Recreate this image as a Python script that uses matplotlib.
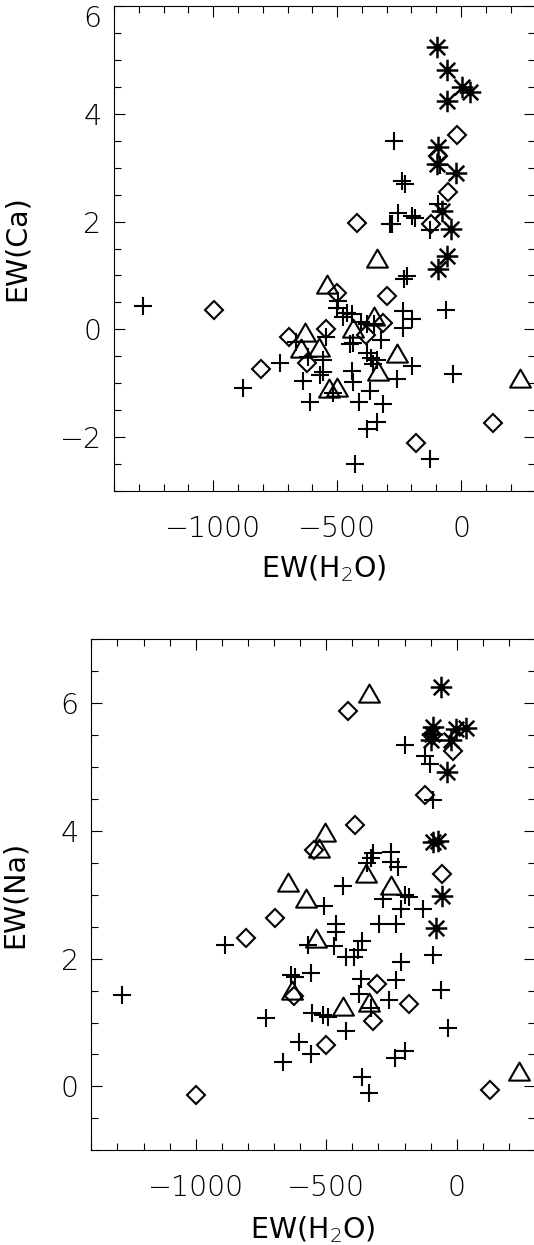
import numpy as np
import matplotlib
matplotlib.use('Agg')
import matplotlib.pyplot as plt
from matplotlib.path import Path
from matplotlib.ticker import MultipleLocator

# EW(H2O) vs EW(Ca) -- one list per symbol
ca_plus_x = [-1281, -878, -730, -666, -636, -616, -609, -569, -558, -555, -546, -517, -495, -501,
             -475, -461, -441, -448, -434, -441, -434, -427, -410, -404, -380, -351, -380, -362,
             -340, -354, -367, -324, -313, -340, -380, -286, -278, -270, -259, -253, -239, -226,
             -233, -232, -219, -199, -233, -199, -199, -185, -125, -125, -60, -33, -85, -92]
ca_plus_y = [0.43, -1.08, -0.62, -0.24, -0.96, -0.52, -1.35, -0.84, -0.80, -0.57, -0.14, -1.18, 0.52, 0.40,
             0.23, 0.30, 0.28, -0.28, -0.26, -0.77, -0.97, -2.50, -1.35, 0.14, 0.09, 0.09, -0.43, -0.53,
             -0.56, -0.65, -1.15, -0.20, -1.39, -1.72, -1.85, 1.96, 1.96, 3.49, -0.93, 2.16, 2.75, 2.69,
             0.34, 0.93, 0.99, 0.19, 0.02, -0.68, 2.10, 2.07, 1.85, -2.41, 0.36, -0.83, 3.05, 2.32]
ca_dia_x = [-996, -806, -694, -620, -544, -501, -421, -383, -316, -300, -181, -122, -91, -54, -15, 128]
ca_dia_y = [0.36, -0.74, -0.15, -0.63, 0.0, 0.68, 1.98, -0.11, 0.12, 0.62, -2.10, 1.95, 3.21, 2.54, 3.61, -1.74]
ca_tri_x = [-629, -646, -571, -539, -531, -501, -434, -351, -340, -333, -259, 238]
ca_tri_y = [-0.06, -0.37, -0.34, 0.83, -1.11, -1.08, 0.0, 0.22, 1.30, -0.80, -0.46, -0.93]
ca_star_x = [-98, -58, 3, 36, -55, -91, -96, -20, -78, -42, -55, -91]
ca_star_y = [5.23, 4.81, 4.49, 4.40, 4.23, 3.39, 3.07, 2.90, 2.20, 1.86, 1.36, 1.12]

# EW(H2O) vs EW(Na)
na_plus_x = [-1283, -886, -732, -665, -636, -619, -604, -568, -557, -556, -559, -514, -495, -508,
             -472, -461, -461, -437, -424, -424, -392, -380, -361, -365, -373, -361, -337, -322,
             -344, -328, -328, -296, -283, -258, -251, -251, -226, -235, -232, -232, -213, -213,
             -200, -181, -200, -200, -130, -123, -104, -91, -91, -59, -33]
na_plus_y = [1.43, 2.22, 1.07, 0.38, 1.75, 1.72, 0.70, 2.21, 1.77, 1.15, 0.50, 1.12, 1.09, 2.82,
             2.20, 2.55, 2.41, 3.13, 2.03, 0.86, 2.03, 2.14, 2.27, 1.68, 1.45, 0.15, -0.10, 3.65,
             3.50, 3.58, 1.22, 2.55, 2.94, 1.35, 3.67, 3.52, 3.44, 0.44, 2.55, 1.67, 2.78, 1.95,
             3.00, 2.97, 0.55, 5.34, 2.78, 5.18, 5.05, 4.48, 2.06, 1.51, 0.92]
na_dia_x = [-998, -809, -696, -623, -546, -501, -418, -388, -322, -304, -181, -123, -95, -55, -14, 129]
na_dia_y = [-0.14, 2.32, 2.64, 1.42, 3.70, 0.65, 5.87, 4.09, 1.02, 1.61, 1.29, 4.57, 5.50, 3.32, 5.25, -0.05]
na_tri_x = [-630, -645, -576, -540, -527, -504, -434, -347, -337, -335, -251, 240]
na_tri_y = [1.50, 3.19, 2.94, 2.31, 3.72, 3.96, 1.25, 3.32, 6.14, 1.31, 3.13, 0.23]
na_star_x = [-59, -91, -1, 37, -100, -22, -36, -91, -70, -58, -78, -95]
na_star_y = [6.26, 5.63, 5.60, 5.61, 5.43, 5.42, 4.92, 3.83, 3.85, 2.98, 2.48, 5.52]

ca_yticks = [-2, 0, 2, 4, 6]
na_yticks = [0, 2, 4, 6]
xticks = [-1000, -500, 0]

plt.rcParams['font.family'] = 'DejaVu Sans'
plt.rcParams['font.weight'] = 'light'

# IDL-style symbols: open triangle and 4-line asterisk
tri = Path([(-1, -0.78), (1, -0.78), (0, 0.95), (-1, -0.78)], closed=True)
d = 0.72
star = Path([(-1, 0), (1, 0), (0, -1), (0, 1), (-d, -d), (d, d), (-d, d), (d, -d)],
            [Path.MOVETO, Path.LINETO] * 4)

fig = plt.figure(figsize=(5.34, 12.45), dpi=100)
ax1 = fig.add_axes([114 / 534, 1 - 491 / 1245, 421.4 / 534, 485 / 1245])
ax2 = fig.add_axes([91.3 / 534, 1 - 1150.3 / 1245, 443.7 / 534, 511 / 1245])

lw = 1.5
fs = 20.5
panels = [
    (ax1, ca_plus_x, ca_plus_y, ca_dia_x, ca_dia_y, ca_tri_x, ca_tri_y, ca_star_x, ca_star_y),
    (ax2, na_plus_x, na_plus_y, na_dia_x, na_dia_y, na_tri_x, na_tri_y, na_star_x, na_star_y),
]
for ax, px, py, dx, dy, tx, ty, sx, sy in panels:
    ax.plot(px, py, ls='none', marker='+', ms=13.5, mew=lw, color='black')
    ax.plot(dx, dy, ls='none', marker='D', ms=9.5, mew=lw, mfc='none', color='black')
    ax.plot(tx, ty, ls='none', marker=tri, ms=15, mew=lw, mfc='none', color='black')
    ax.plot(sx, sy, ls='none', marker=star, ms=15.5, mew=lw + 0.3, color='black')

    ax.set_xlim(-1400, 300)
    ax.set_xticks(xticks)
    ax.xaxis.set_minor_locator(MultipleLocator(100))
    ax.yaxis.set_minor_locator(MultipleLocator(0.5))
    ax.tick_params(which='both', direction='in', top=True, right=True, width=0.8, colors='black')
    ax.tick_params(which='major', length=8)
    ax.tick_params(which='minor', length=5)
    ax.tick_params(axis='x', which='major', pad=17, labelsize=fs)
    ax.tick_params(axis='y', which='major', pad=9, labelsize=fs)
    for s in ax.spines.values():
        s.set_linewidth(0.8)
    ax.set_xlabel('EW(H$_2$O)', fontsize=fs)
    ax.xaxis.label.set_va('center')
    ax.yaxis.label.set_va('center')

ax1.set_ylim(-3, 6)
ax2.set_ylim(-1, 7)
ax1.set_yticks(ca_yticks)
ax1.set_yticklabels([str(v).replace('-', '\u2212') if v != 6 else '' for v in ca_yticks])
ax2.set_yticks(na_yticks)
ax1.set_ylabel('EW(Ca)', fontsize=fs)
ax2.set_ylabel('EW(Na)', fontsize=fs)

# top label of the Ca panel sits a little below its tick
ax1.annotate('6', xy=(0, 6), xycoords=('axes fraction', 'data'),
             xytext=(-12.5, -13), textcoords='offset pixels',
             ha='right', va='center', fontsize=fs)

ax1.xaxis.set_label_coords(0.497, -0.159)
ax2.xaxis.set_label_coords(0.5, -0.156)
ax1.yaxis.set_label_coords(-0.23, 0.5)
ax2.yaxis.set_label_coords(-0.172, 0.5)

fig.savefig('out.png', dpi=100)
